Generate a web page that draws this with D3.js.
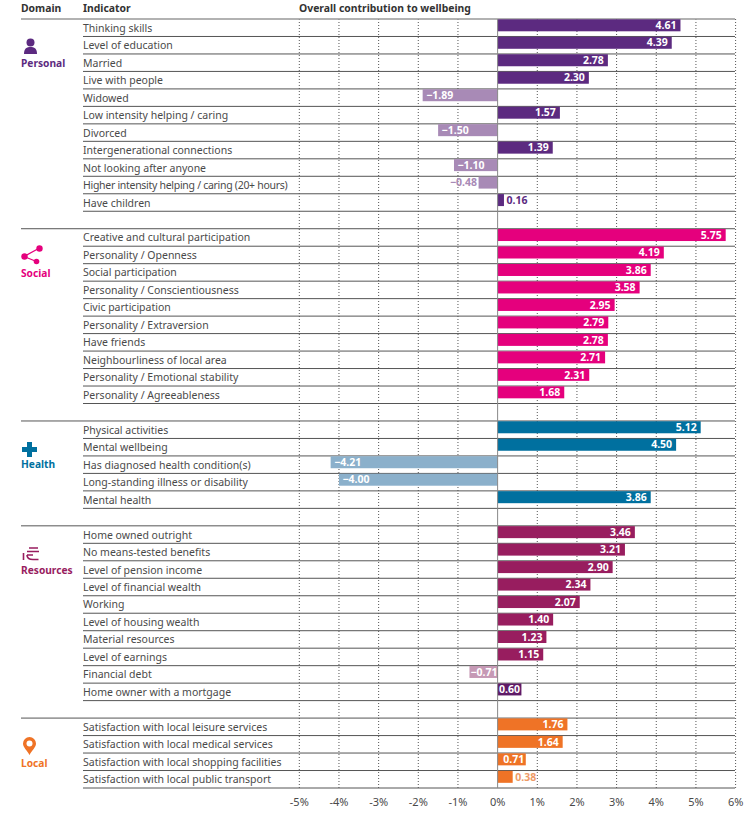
<!DOCTYPE html>
<html><head><meta charset="utf-8">
<style>html,body{margin:0;padding:0;background:#fff}svg{display:block}text{font-family:"Noto Sans",Lato,sans-serif}</style>
<script src="https://cdn.jsdelivr.net/npm/d3@7/dist/d3.min.js"></script>
</head><body><svg id="c" width="754" height="815"></svg>
<script>
const domains = ["Personal","Social","Health","Resources","Local"];
const personalLabels = ["Thinking skills","Level of education","Married","Live with people","Widowed","Low intensity helping / caring","Divorced","Intergenerational connections","Not looking after anyone","Higher intensity helping / caring (20+ hours)","Have children"];
const personalValues = [4.61,4.39,2.78,2.30,-1.89,1.57,-1.50,1.39,-1.10,-0.48,0.16];
const socialLabels = ["Creative and cultural participation","Personality / Openness","Social participation","Personality / Conscientiousness","Civic participation","Personality / Extraversion","Have friends","Neighbourliness of local area","Personality / Emotional stability","Personality / Agreeableness"];
const socialValues = [5.75,4.19,3.86,3.58,2.95,2.79,2.78,2.71,2.31,1.68];
const healthLabels = ["Physical activities","Mental wellbeing","Has diagnosed health condition(s)","Long-standing illness or disability","Mental health"];
const healthValues = [5.12,4.50,-4.21,-4.00,3.86];
const resourcesLabels = ["Home owned outright","No means-tested benefits","Level of pension income","Level of financial wealth","Working","Level of housing wealth","Material resources","Level of earnings","Financial debt","Home owner with a mortgage"];
const resourcesValues = [3.46,3.21,2.90,2.34,2.07,1.40,1.23,1.15,-0.71,0.60];
const localLabels = ["Satisfaction with local leisure services","Satisfaction with local medical services","Satisfaction with local shopping facilities","Satisfaction with local public transport"];
const localValues = [1.76,1.64,0.71,0.38];
const tickValues = [-5,-4,-3,-2,-1,0,1,2,3,4,5,6];
const posColors = ["#5c2a80","#e5007d","#00709f","#981d5f","#ef7326"];
const negColors = ["#a88ab6","#e5007d","#8bb0cb","#c699b5","#ef7326"];

const groups = [[personalLabels,personalValues],[socialLabels,socialValues],[healthLabels,healthValues],[resourcesLabels,resourcesValues],[localLabels,localValues]];
const rows = [];
groups.forEach((g,d)=>{
  g[0].forEach((l,i)=>rows.push({key:d+"-"+i,d,i,label:l,value:g[1][i]}));
  if(d<groups.length-1) rows.push({key:"gap"+d,d,gap:true,i:g[0].length});
});
const svg = d3.select("#c");
const x = d3.scaleLinear().domain([-5,6]).range([299.3,735.6]);
const y = d3.scaleBand().domain(rows.map(r=>r.key)).range([19,788]).paddingInner(0).paddingOuter(0);
const barH = 12;
const textCol = "#4a4a4a";

// header
const hdr = svg.append("g").attr("font-weight",700).attr("font-size",10.4).attr("fill","#333");
hdr.append("text").attr("x",21).attr("y",12).text("Domain");
hdr.append("text").attr("x",83).attr("y",12).text("Indicator");
hdr.append("text").attr("x",299).attr("y",12).text("Overall contribution to wellbeing");

// grid
svg.append("g").selectAll("line").data(tickValues.filter(t=>t!==0)).join("line")
  .attr("x1",d=>x(d)).attr("x2",d=>x(d)).attr("y1",19).attr("y2",788)
  .attr("stroke","#555").attr("stroke-width",1).attr("stroke-dasharray","1 2");

// row rules
const rules = svg.append("g").attr("stroke","#555").attr("stroke-width",1);
rules.append("line").attr("x1",21).attr("x2",735).attr("y1",19).attr("y2",19).attr("stroke","#999").attr("stroke-width",1.5);
rows.forEach(r=>{
  const yy = y(r.key)+y.bandwidth();
  rules.append("line").attr("x1",r.gap?21:83).attr("x2",735).attr("y1",yy).attr("y2",yy);
});

// bars
const data = rows.filter(r=>!r.gap);
const color = r=>{
  if(r.label==="Home owner with a mortgage") return "#5e1a66";
  return r.value<0?negColors[r.d]:posColors[r.d];
};
svg.append("g").selectAll("rect").data(data).join("rect")
  .attr("x",r=>x(Math.min(0,r.value))).attr("width",r=>Math.abs(x(r.value)-x(0)))
  .attr("y",r=>y(r.key)+0.3).attr("height",barH).attr("fill",color);

// zero line
svg.append("line").attr("x1",x(0)).attr("x2",x(0)).attr("y1",19).attr("y2",788).attr("stroke","#888").attr("stroke-width",1);

// indicator labels
svg.append("g").selectAll("text").data(data).join("text")
  .attr("x",83).attr("y",r=>y(r.key)+y.bandwidth()/2+4)
  .attr("font-size",10.5).attr("fill",textCol)
  .attr("letter-spacing",r=>r.label.startsWith("Higher")?-0.29:null)
  .text(r=>r.label);

// value labels
const fmt = d3.format(".2f");
svg.append("g").selectAll("text").data(data).join("text")
  .attr("font-size",10.5).attr("font-weight",700)
  .attr("y",r=>y(r.key)+barH/2+4)
  .each(function(r){
    const w = Math.abs(x(r.value)-x(0));
    const s = d3.select(this);
    if(r.value>=0){
      if(w<20){ s.attr("x",x(r.value)+2.5).attr("text-anchor","start").attr("fill",color(r)); }
      else { s.attr("x",x(r.value)-(w<30?1.5:4)).attr("text-anchor","end").attr("fill","#fff"); }
      if(r.label.endsWith("public transport")) s.attr("fill","#ee9a66");
    } else {
      if(w<20){ s.attr("x",x(r.value)-1.5).attr("text-anchor","end").attr("fill",color(r)); }
      else { s.attr("x",x(r.value)+(w<30?1:3.5)).attr("text-anchor","start").attr("fill","#fff"); }
    }
  }).text(r=>fmt(r.value));

// axis tick labels
svg.append("g").selectAll("text").data(tickValues).join("text")
  .attr("x",d=>x(d)).attr("y",806).attr("text-anchor","middle")
  .attr("font-size",11).attr("fill",textCol).text(d=>d+"%");

// domain labels
const domainY = [66.5,276.5,467.5,574,767];
svg.append("g").selectAll("text").data(domains).join("text")
  .attr("x",21).attr("y",(d,i)=>domainY[i]).attr("font-size",10.2).attr("font-weight",700)
  .attr("fill",(d,i)=>posColors[i]).text(d=>d);

// icons
const p = svg.append("g").attr("fill",posColors[0]);
p.append("circle").attr("cx",30.5).attr("cy",42.5).attr("r",4);
p.append("path").attr("d","M24 54 C24 48 27 47 30.5 47 C34 47 37 48 37 54 Z");
const s = svg.append("g").attr("fill",posColors[1]).attr("stroke",posColors[1]);
s.append("path").attr("fill","none").attr("stroke-width",1.3).attr("d","M39.5 248 L24 256.5 L36.5 261.5");
s.append("circle").attr("cx",24.5).attr("cy",256.5).attr("r",3.2).attr("stroke","none");
s.append("circle").attr("cx",39.5).attr("cy",248.5).attr("r",3.2).attr("stroke","none");
s.append("circle").attr("cx",36.5).attr("cy",261.5).attr("r",2.8).attr("stroke","none");
svg.append("path").attr("fill",posColors[2]).attr("d","M27 442 h5 v5 h5 v5 h-5 v5 h-5 v-5 h-5 v-5 h5 z");
const res = svg.append("g").attr("fill","none").attr("stroke",posColors[3]).attr("stroke-width",1.6);
res.append("path").attr("d","M29 548 H38 M27 551.5 H39 M27 555 H33 M27 555 C27 559 30 559.5 33 559.5 H38.5");
res.append("path").attr("d","M23.5 553 V560");
const l = svg.append("g");
l.append("path").attr("fill",posColors[4]).attr("d","M29.5 755 C27 750 23 747.5 23 743.5 A6.5 6.5 0 0 1 36 743.5 C36 747.5 32 750 29.5 755 Z");
l.append("circle").attr("cx",29.5).attr("cy",743.5).attr("r",3).attr("fill","#fff");
</script></body></html>
